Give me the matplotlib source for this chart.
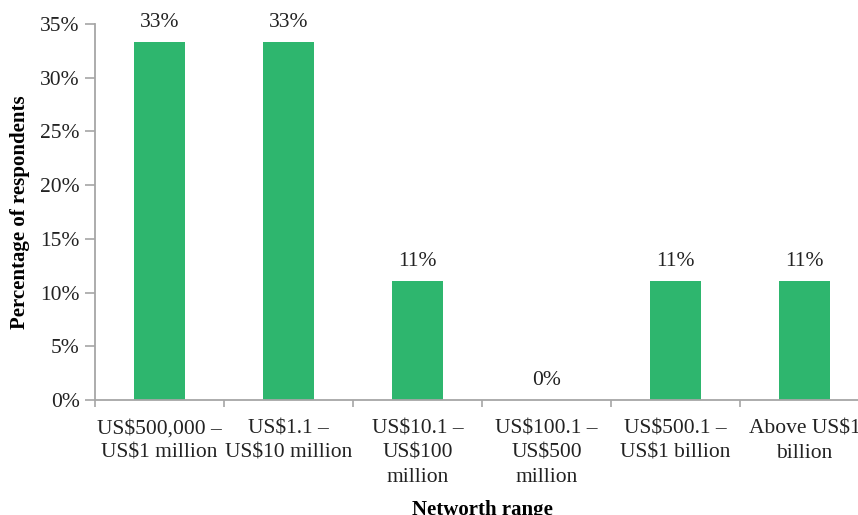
import matplotlib
matplotlib.use("Agg")
import matplotlib.pyplot as plt
import numpy as np
from matplotlib.ticker import FixedLocator, PercentFormatter

categories = [
    "US$500,000 –\nUS$1 million",
    "US$1.1 –\nUS$10 million",
    "US$10.1 –\nUS$100\nmillion",
    "US$100.1 –\nUS$500\nmillion",
    "US$500.1 –\nUS$1 billion",
    "Above US$1\nbillion",
]
shares = [33.33, 33.33, 11.11, 0.0, 11.11, 11.11]
value_labels = ["33%", "33%", "11%", "0%", "11%", "11%"]
y_ticks = [0, 5, 10, 15, 20, 25, 30, 35]

plt.rcParams["font.family"] = ["Liberation Serif", "DejaVu Serif"]
FS = 15.5

fig = plt.figure(figsize=(8.58, 5.15), dpi=100)
ax = fig.add_axes([95 / 858, 115 / 515, 774 / 858, 376 / 515])

x = np.arange(len(categories))
ax.bar(x, shares, width=0.4, color="#2EB66E", zorder=2)

for xi, v, lab in zip(x, shares, value_labels):
    ax.annotate(lab, (xi, v), xytext=(0, 7), textcoords="offset points",
                ha="center", va="bottom", fontsize=FS, color="#222222")

ax.set_xlim(-0.5, len(categories) - 0.5)
ax.set_ylim(0, 35)
ax.set_yticks(y_ticks)
ax.yaxis.set_major_formatter(PercentFormatter(decimals=0))

ax.set_xticks(x)
ax.set_xticklabels(categories, fontsize=FS, color="#222222", linespacing=1.38)
ax.xaxis.set_minor_locator(FixedLocator(np.arange(-0.5, len(categories), 1.0)))
ax.tick_params(axis="x", which="major", length=0, pad=14)
ax.tick_params(axis="x", which="minor", length=5, width=1.2, color="#A6A6A6", direction="out")
ax.tick_params(axis="y", length=7, width=1.2, color="#A6A6A6", labelsize=FS,
               labelcolor="#222222", pad=4)

for side in ("top", "right"):
    ax.spines[side].set_visible(False)
for side in ("left", "bottom"):
    ax.spines[side].set_color("#A6A6A6")
    ax.spines[side].set_linewidth(1.3)

ax.set_ylabel("Percentage of respondents", fontsize=15, fontweight="bold", labelpad=7)
ax.set_xlabel("Networth range", fontsize=15, fontweight="bold", labelpad=9)

fig.savefig("out.png", dpi=100)
